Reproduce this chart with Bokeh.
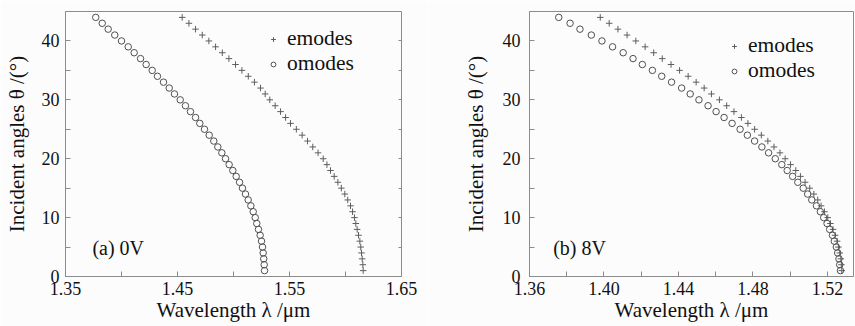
from bokeh.plotting import figure
from bokeh.models import (Range1d, FixedTicker, NumeralTickFormatter, Legend, LegendItem,
                          Label, LinearAxis)
from bokeh.layouts import row
from bokeh.embed import file_html
from bokeh.resources import INLINE

# ---------------- data ----------------
angles = list(range(44, 0, -1))  # incident angle theta (deg), 44 .. 1

a_emodes = [1.4542, 1.4602, 1.4661, 1.4721, 1.4780, 1.4840, 1.4900, 1.4959, 1.5018, 1.5075,
            1.5132, 1.5187, 1.5241, 1.5283, 1.5324, 1.5372, 1.5420, 1.5465, 1.5509, 1.5561,
            1.5613, 1.5661, 1.5708, 1.5755, 1.5801, 1.5834, 1.5866, 1.5899, 1.5932, 1.5963,
            1.5994, 1.6020, 1.6045, 1.6063, 1.6080, 1.6092, 1.6104, 1.6116, 1.6128, 1.6136,
            1.6143, 1.6149, 1.6155, 1.6158]
a_omodes = [1.3770, 1.3828, 1.3881, 1.3940, 1.4000, 1.4060, 1.4113, 1.4170, 1.4220, 1.4274,
            1.4321, 1.4375, 1.4426, 1.4473, 1.4524, 1.4571, 1.4616, 1.4661, 1.4699, 1.4741,
            1.4783, 1.4824, 1.4860, 1.4896, 1.4929, 1.4961, 1.4994, 1.5024, 1.5054, 1.5080,
            1.5107, 1.5131, 1.5155, 1.5176, 1.5194, 1.5208, 1.5223, 1.5238, 1.5250, 1.5259,
            1.5265, 1.5270, 1.5274, 1.5277]

b_emodes = [1.3980, 1.4028, 1.4075, 1.4124, 1.4171, 1.4221, 1.4267, 1.4313, 1.4360, 1.4406,
            1.4452, 1.4495, 1.4538, 1.4577, 1.4620, 1.4659, 1.4698, 1.4738, 1.4773, 1.4809,
            1.4845, 1.4880, 1.4913, 1.4945, 1.4973, 1.5002, 1.5030, 1.5055, 1.5080, 1.5105,
            1.5127, 1.5148, 1.5166, 1.5184, 1.5202, 1.5216, 1.5230, 1.5241, 1.5252, 1.5259,
            1.5266, 1.5272, 1.5275, 1.5277]
b_omodes = [1.3757, 1.3818, 1.3871, 1.3932, 1.3989, 1.4046, 1.4103, 1.4156, 1.4206, 1.4260,
            1.4310, 1.4363, 1.4417, 1.4463, 1.4510, 1.4559, 1.4602, 1.4645, 1.4688, 1.4731,
            1.4770, 1.4809, 1.4848, 1.4884, 1.4920, 1.4955, 1.4984, 1.5013, 1.5041, 1.5070,
            1.5094, 1.5116, 1.5141, 1.5162, 1.5180, 1.5198, 1.5212, 1.5227, 1.5237, 1.5248,
            1.5255, 1.5262, 1.5266, 1.5270]

a_xticks = [1.35, 1.45, 1.55, 1.65]
a_xminor = [1.40, 1.50, 1.60]
b_xticks = [1.36, 1.40, 1.44, 1.48, 1.52]
b_xminor = [1.38, 1.42, 1.46, 1.50]
yticks = [0, 10, 20, 30, 40]
yminor = [5, 15, 25, 35]
yright = [5, 10, 15, 20, 25, 30, 35, 40]

series_names = ["emodes", "omodes"]
panel_labels = ["(a) 0V", "(b) 8V"]
xlabel = "Wavelength λ /μm"
ylabel = "Incident angles θ /(°)"

SERIF = "Liberation Serif"
FRAME = "#8c8c8c"
BG = "#fcfcfc"
INK = "#111111"


def make_panel(xr, xt, xm, em, om, label, label_dx, width, bl, br, leg_loc, leg_sp,
               ystand, ylab_stand):
    p = figure(width=width, height=326, output_backend="svg", toolbar_location=None,
               x_range=Range1d(*xr), y_range=Range1d(0, 45),
               min_border_left=bl, min_border_right=br, min_border_top=11, min_border_bottom=50)
    p.background_fill_color = BG
    p.border_fill_color = BG
    p.outline_line_color = FRAME
    p.outline_line_width = 1
    p.xgrid.visible = False
    p.ygrid.visible = False

    p.xaxis.ticker = FixedTicker(ticks=xt, minor_ticks=xm)
    p.xaxis.formatter = NumeralTickFormatter(format="0.00")
    p.yaxis.ticker = FixedTicker(ticks=yticks, minor_ticks=yminor)
    for ax in (p.xaxis, p.yaxis):
        ax.axis_line_color = FRAME
        ax.major_tick_line_color = FRAME
        ax.minor_tick_line_color = FRAME
        ax.major_tick_in = 5
        ax.major_tick_out = 0
        ax.minor_tick_in = 5
        ax.minor_tick_out = 0
        ax.major_label_text_font = SERIF
        ax.major_label_text_font_size = "18px"
        ax.major_label_text_color = INK
        ax.axis_label_text_font = SERIF
        ax.axis_label_text_font_size = "21px"
        ax.axis_label_text_font_style = "normal"
        ax.axis_label_text_color = INK
    p.xaxis.axis_label = xlabel
    p.yaxis.axis_label = ylabel
    p.xaxis.major_label_standoff = 5
    p.xaxis.axis_label_standoff = 0
    p.yaxis.major_label_standoff = ystand
    p.yaxis.axis_label_standoff = ylab_stand

    re = p.scatter(em, angles, marker="cross", size=6.5, line_color="#5e5e5e", line_width=1)
    ro = p.scatter(om, angles, marker="circle", size=6.5, line_color="#505050", line_width=1,
                   fill_color=None)

    legend = Legend(items=[LegendItem(label=series_names[0], renderers=[re]),
                           LegendItem(label=series_names[1], renderers=[ro])],
                    location=leg_loc, padding=0, margin=0, spacing=leg_sp,
                    glyph_width=12, glyph_height=12, label_height=21, label_standoff=8,
                    label_text_font=SERIF, label_text_font_size="21.5px",
                    label_text_color=INK,
                    background_fill_alpha=0, border_line_color=None)
    p.add_layout(legend, "center")

    p.add_layout(Label(x=xr[0] + label_dx, y=4.9, text=label,
                       text_font=SERIF, text_font_size="20px", text_color=INK,
                       text_baseline="alphabetic"))
    return p


p1 = make_panel((1.35, 1.65), a_xticks, a_xminor, a_emodes, a_omodes, panel_labels[0], 0.024,
                428, 65, 27, (202, 200), -2, 6, 10)
ra = LinearAxis(ticker=FixedTicker(ticks=[], minor_ticks=yright),
                axis_line_color=None, minor_tick_line_color=FRAME,
                minor_tick_in=3, minor_tick_out=0)
p1.add_layout(ra, "right")

p2 = make_panel((1.36, 1.534), b_xticks, b_xminor, b_emodes, b_omodes, panel_labels[1], 0.0127,
                427, 101, 2, (199, 193), -1, 9, 12)

layout = row(p1, p2)
open("out.html", "w").write(file_html(layout, INLINE))
